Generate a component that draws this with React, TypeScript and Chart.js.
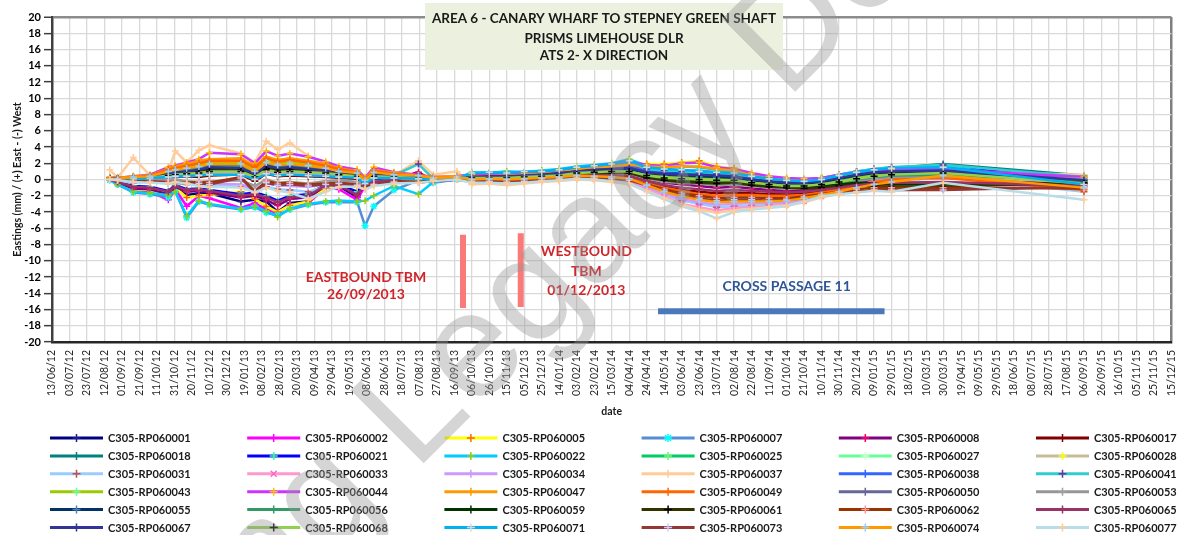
import React, { useEffect, useRef } from 'react';
import { Chart, registerables } from 'chart.js';

Chart.register(...registerables);

const FONT = '"Lato", "Open Sans", sans-serif';

// ---------- DATA ----------
const measurementDates = [
  '2012-08-18','2012-08-27','2012-09-14','2012-10-03','2012-10-24','2012-11-01','2012-11-14','2012-11-28',
  '2012-12-10','2013-01-15','2013-01-31','2013-02-13','2013-02-26','2013-03-12','2013-04-02','2013-04-22',
  '2013-05-07','2013-05-28','2013-06-06','2013-06-16','2013-07-09','2013-08-06','2013-08-23','2013-09-19',
  '2013-10-06','2013-10-26','2013-11-15','2013-12-05','2013-12-25','2014-01-14','2014-02-03','2014-02-23',
  '2014-03-15','2014-04-04','2014-04-24','2014-05-14','2014-06-03','2014-06-23','2014-07-13','2014-08-02',
  '2014-08-22','2014-09-11','2014-10-01','2014-10-21','2014-11-10','2014-11-30','2014-12-20','2015-01-09',
  '2015-01-29','2015-03-29','2015-09-06',
];

const tickLabels = [
  '13/06/12','03/07/12','23/07/12','12/08/12','01/09/12','21/09/12','11/10/12','31/10/12','20/11/12','10/12/12',
  '30/12/12','19/01/13','08/02/13','28/02/13','20/03/13','09/04/13','29/04/13','19/05/13','08/06/13','28/06/13',
  '18/07/13','07/08/13','27/08/13','16/09/13','06/10/13','26/10/13','15/11/13','05/12/13','25/12/13','14/01/14',
  '03/02/14','23/02/14','15/03/14','04/04/14','24/04/14','14/05/14','03/06/14','23/06/14','13/07/14','02/08/14',
  '22/08/14','11/09/14','01/10/14','21/10/14','10/11/14','30/11/14','20/12/14','09/01/15','29/01/15','18/02/15',
  '10/03/15','30/03/15','19/04/15','09/05/15','29/05/15','18/06/15','08/07/15','28/07/15','17/08/15','06/09/15',
  '26/09/15','16/10/15','05/11/15','25/11/15','15/12/15',
];

const C305_RP060001 = [0.0,-0.5,-1.3,-1.4,-2.0,-1.1,-1.9,-1.7,-1.7,-2.7,-2.5,-2.7,-4.0,-2.9,-2.7,-0.9,-0.8,-2.2,-0.6,-0.4,-0.2,0.2,-0.2,0.0,
  0.3,0.4,0.4,0.5,0.6,0.8,1.0,1.2,1.3,1.4,1.0,0.9,0.8,0.8,0.7,0.6,0.2,-0.1,-0.3,-0.4,-0.2,0.2,0.5,0.8,0.9, 0.5,-0.3];
const C305_RP060002 = [0.0,-0.6,-1.4,-1.5,-2.5,-1.2,-3.3,-2.0,-2.3,-3.5,-2.9,-3.7,-4.1,-3.1,-2.9,-1.0,-1.2,-2.5,-0.8,-0.5,-0.3,0.4,-0.3,0.0,
  0.4,0.4,0.5,0.5,0.7,0.8,1.1,1.3,1.4,1.5,1.1,1.0,1.0,1.0,0.8,0.7,0.3,0.0,-0.2,-0.3,-0.1,0.3,0.7,1.0,1.1, 1.2,-0.2];
const C305_RP060005 = [0.1,-0.4,-1.2,-1.3,-2.0,-1.0,-2.2,-2.0,-1.9,-1.5,-2.4,-3.3,-4.0,-3.2,-2.7,-1.0,-0.9,-1.4,-0.7,-0.5,-0.1,0.3,-0.1,0.1,
  0.5,0.6,0.7,0.6,0.8,1.0,1.3,1.6,1.8,2.0,1.9,1.9,2.1,2.3,1.6,1.4,0.7,0.3,0.1,0.0,0.1,0.5,0.8,1.0,1.1, 0.9,-0.2];
const C305_RP060007 = [-0.1,-0.6,-1.6,-1.8,-2.2,-1.4,-4.7,-2.7,-3.1,-3.7,-3.4,-4.1,-4.4,-3.7,-3.1,-2.8,-2.8,-2.8,-5.7,-3.3,-1.3,-0.1,-0.4,0.0,
  0.4,0.5,0.5,0.6,0.7,0.9,1.1,1.3,1.5,1.6,1.2,1.1,1.1,1.1,0.9,0.8,0.4,0.1,-0.1,-0.2,0.0,0.4,0.8,1.1,1.2, 1.4,0.0];
const C305_RP060008 = [0.0,-0.4,-1.1,-1.2,-1.8,-0.9,-1.5,-1.4,-1.6,-2.2,-2.0,-2.5,-3.2,-2.4,-2.2,-0.8,-0.7,-2.0,-0.6,-0.3,0.0,0.9,-0.2,0.1,
  0.0,0.1,0.1,0.2,0.2,0.4,0.6,0.6,0.6,0.6,0.0,-0.4,-0.6,-0.8,-1.0,-0.9,-1.1,-1.3,-1.4,-1.3,-1.1,-0.8,-0.4,-0.1,0.1, 0.2,-0.6];
const C305_RP060017 = [0.1,0.0,-0.1,0.1,0.2,0.3,0.4,0.3,0.5,0.6,-0.2,0.7,0.4,0.5,0.4,0.3,0.2,0.1,-0.6,0.1,0.2,0.3,0.0,0.2,
  -0.1,0.0,-0.1,0.0,0.1,0.2,0.4,0.4,0.3,0.2,-0.4,-0.9,-1.3,-1.5,-1.7,-1.6,-1.7,-1.8,-1.8,-1.7,-1.5,-1.3,-1.2,-1.1,-1.2, -1.2,-0.9];
const C305_RP060018 = [0.2,0.2,0.3,0.5,1.1,1.2,1.4,1.7,2.2,2.1,1.3,2.4,2.0,2.2,1.9,1.5,1.1,0.8,0.0,1.0,0.6,0.5,0.2,0.3,
  0.6,0.7,0.6,0.8,0.8,1.0,1.3,1.5,1.7,1.9,1.2,1.0,0.8,0.6,0.6,0.5,0.2,0.0,-0.2,-0.2,0.0,0.5,0.9,1.2,1.4, 1.9,0.5];
const C305_RP060021 = [0.0,-0.3,-0.8,-0.9,-1.4,-0.7,-1.2,-1.1,-1.3,-1.8,-1.6,-2.0,-2.6,-2.0,-1.8,-0.6,-0.6,-1.5,-0.4,-0.2,0.0,0.2,-0.1,0.0,
  0.6,0.6,0.7,0.7,0.9,1.0,1.3,1.5,1.6,1.8,1.3,1.0,1.0,0.9,0.8,0.7,0.4,0.1,-0.1,-0.1,0.1,0.5,0.9,1.1,1.3, 1.6,0.2];
const C305_RP060022 = [0.0,-0.6,-1.5,-1.7,-1.9,-1.5,-4.5,-2.6,-3.0,-3.6,-3.3,-3.9,-4.6,-3.6,-3.0,-2.7,-2.6,-2.7,-2.6,-2.0,-0.8,-1.8,-0.3,0.1,
  0.9,0.8,1.0,0.9,1.1,1.3,1.6,1.8,2.0,2.5,1.7,1.5,1.6,1.5,1.2,1.0,0.6,0.2,0.0,0.0,0.2,0.6,1.0,1.3,1.5, 1.7,-0.7];
const C305_RP060025 = [0.2,0.1,0.3,0.4,1.0,1.3,1.5,1.8,2.3,2.2,1.4,2.5,2.1,2.3,2.0,1.6,1.2,0.9,0.0,1.1,0.7,0.5,0.2,0.3,
  0.2,0.3,0.3,0.4,0.5,0.6,0.9,1.0,1.1,1.2,0.7,0.4,0.3,0.3,0.2,0.1,-0.2,-0.4,-0.6,-0.6,-0.4,-0.1,0.3,0.6,0.8, 1.1,-0.1];
const C305_RP060027 = [0.1,0.1,0.2,0.4,0.9,1.1,1.3,1.6,2.0,1.9,1.2,2.2,1.8,2.0,1.8,1.4,1.0,0.8,-0.1,0.9,0.6,0.4,0.1,0.2,
  0.3,0.3,0.4,0.4,0.5,0.7,0.9,1.1,1.2,1.3,0.8,0.5,0.4,0.4,0.3,0.2,-0.1,-0.3,-0.5,-0.6,-0.4,0.0,0.4,0.7,0.9, 1.3,-0.3];
const C305_RP060028 = [0.0,0.0,0.1,0.1,0.3,0.4,0.5,0.6,0.8,0.8,0.2,1.0,0.7,0.8,0.7,0.6,0.4,0.3,-0.4,0.3,0.3,0.2,0.0,0.1,
  0.1,0.2,0.2,0.3,0.3,0.5,0.7,0.8,0.9,1.0,0.4,0.1,0.0,0.0,-0.2,-0.1,-0.4,-0.6,-0.7,-0.8,-0.6,-0.3,0.0,0.2,0.3, 0.3,-0.3];
const C305_RP060031 = [0.0,-0.2,-0.4,-0.3,-0.5,-0.3,-0.6,-0.5,-0.7,-0.9,-1.3,-0.9,-1.2,-1.3,-1.5,-0.9,-0.6,-0.9,-0.5,-0.3,-0.2,0.0,-0.2,0.0,
  -0.3,-0.2,-0.3,-0.2,-0.1,0.0,0.2,0.1,0.0,-0.3,-1.1,-1.9,-2.6,-3.0,-3.4,-3.3,-3.2,-3.1,-3.0,-2.6,-2.0,-1.6,-1.2,-0.8,-0.5, 0.4,-1.5];
const C305_RP060033 = [0.1,0.0,0.1,0.2,0.4,0.5,0.6,0.7,0.9,0.9,0.3,1.1,0.8,0.9,0.8,0.7,0.5,0.4,-0.3,0.4,0.3,0.4,0.1,0.2,
  -0.2,-0.2,-0.4,-0.2,-0.1,0.1,0.2,0.1,-0.1,-0.4,-1.2,-2.1,-3.0,-3.4,-3.8,-3.5,-3.4,-3.3,-3.1,-2.7,-2.1,-1.6,-1.0,-0.3,0.4, 1.2,-0.3];
const C305_RP060034 = [0.0,-0.1,-0.1,0.0,-0.2,-0.1,-0.3,-0.4,-0.5,-0.6,-1.2,-0.5,-0.7,-0.8,-0.9,-0.6,-0.4,-0.6,-1.0,-0.6,-0.3,-0.2,-0.1,0.0,
  -0.1,0.0,-0.1,0.0,0.1,0.2,0.4,0.3,0.2,-0.1,-0.9,-1.7,-2.4,-2.8,-3.1,-3.0,-2.9,-2.9,-2.8,-2.4,-1.9,-1.4,-0.8,-0.2,0.3, 0.9,-0.5];
const C305_RP060037 = [1.2,0.2,2.7,0.5,1.0,3.5,2.1,3.6,4.2,3.2,2.1,4.7,3.7,4.5,2.9,2.0,1.5,1.2,0.3,0.8,0.5,2.3,0.6,1.0,
  -0.6,-0.5,-0.7,-0.5,-0.3,-0.2,0.0,-0.1,-0.3,-0.6,-1.4,-2.3,-3.1,-3.7,-4.1,-3.8,-3.6,-3.4,-3.2,-2.8,-2.2,-1.8,-1.4,-1.0,-0.8, 1.0,0.6];
const C305_RP060038 = [0.1,0.1,0.2,0.3,0.8,1.0,1.2,1.4,1.8,1.8,1.0,2.0,1.7,1.8,1.6,1.3,1.0,0.7,-0.1,0.8,0.5,0.4,0.1,0.2,
  0.5,0.5,0.6,0.6,0.7,0.9,1.2,1.4,1.5,1.7,1.1,0.8,0.6,0.5,0.4,0.3,0.1,-0.1,-0.3,-0.3,-0.1,0.3,0.7,1.0,1.2, 1.4,0.0];
const C305_RP060041 = [0.1,0.1,0.2,0.3,0.7,0.8,0.9,1.1,1.3,1.4,0.5,1.5,1.2,1.3,1.2,1.0,0.8,0.6,-0.2,0.7,0.5,1.9,0.1,0.2,
  0.7,0.8,0.7,0.8,0.9,1.1,1.4,1.6,1.8,2.1,1.3,1.1,1.0,0.8,0.7,0.6,0.3,0.0,-0.1,-0.1,0.1,0.6,1.0,1.3,1.5, 1.8,0.3];
const C305_RP060043 = [0.1,0.0,0.2,0.4,0.9,1.2,1.4,1.7,2.2,2.1,1.3,2.3,2.0,2.2,1.9,1.5,1.1,0.8,0.0,1.0,0.6,0.4,0.2,0.3,
  0.2,0.2,0.3,0.3,0.4,0.6,0.8,1.0,1.1,1.1,0.6,0.3,0.2,0.2,0.1,0.0,-0.3,-0.5,-0.7,-0.7,-0.5,-0.2,0.2,0.5,0.7, 0.9,-0.4];
const C305_RP060044 = [0.3,0.2,0.4,0.6,1.5,1.7,2.1,2.5,3.3,3.1,2.0,3.5,2.9,3.2,2.8,2.2,1.6,1.2,0.2,1.5,0.9,0.6,0.3,0.4,
  0.6,0.5,0.8,0.7,0.9,1.1,1.4,1.7,1.9,2.2,1.8,1.7,2.0,2.1,1.5,1.3,0.8,0.4,0.2,0.1,0.2,0.6,0.9,1.1,1.2, 1.2,0.3];
const C305_RP060047 = [0.2,0.2,0.4,0.5,1.3,1.6,1.9,2.3,2.5,2.6,1.7,2.8,2.4,2.6,2.3,1.9,1.4,1.0,0.1,1.2,0.8,0.5,0.3,0.4,
  0.4,0.4,0.5,0.6,0.7,0.9,1.2,1.4,1.6,1.8,1.6,1.5,1.6,1.6,1.3,1.1,0.5,0.1,-0.1,-0.2,-0.1,0.3,0.6,0.8,0.9, 0.6,-1.2];
const C305_RP060049 = [0.2,0.1,0.3,0.5,1.2,1.4,1.7,2.0,2.3,2.3,1.5,2.6,2.2,2.4,2.1,1.7,1.3,0.9,0.0,1.1,0.7,0.5,0.2,0.3,
  0.0,0.0,0.1,0.1,0.2,0.3,0.5,0.5,0.4,0.3,-0.4,-1.0,-1.4,-1.8,-2.0,-1.9,-1.9,-2.0,-2.0,-1.9,-1.6,-1.2,-0.7,-0.3,0.0, 0.2,-1.3];
const C305_RP060050 = [0.1,0.1,0.2,0.3,0.6,0.7,0.8,0.9,1.1,1.1,0.4,1.3,1.0,1.1,1.0,0.8,0.6,0.5,-0.3,0.5,0.4,0.3,0.0,0.2,
  0.1,0.1,0.2,0.2,0.3,0.5,0.6,0.8,0.8,0.9,0.3,0.0,-0.2,-0.3,-0.4,-0.3,-0.6,-0.8,-1.0,-1.0,-0.8,-0.5,-0.1,0.2,0.4, 0.7,0.0];
const C305_RP060053 = [0.0,0.0,-0.1,0.0,0.1,0.0,-0.2,-0.3,-0.2,-0.1,-0.8,0.0,-0.4,-0.3,-0.5,-0.2,-0.1,-0.3,-0.8,-0.3,0.0,-0.1,-0.1,0.0,
  0.0,0.1,0.1,0.2,0.2,0.4,0.6,0.7,0.7,0.7,0.1,-0.3,-0.4,-0.5,-0.7,-0.6,-0.8,-1.0,-1.1,-1.1,-0.9,-0.6,-0.2,0.1,0.3, 0.4,0.1];
const C305_RP060055 = [0.1,0.1,0.2,0.4,0.8,0.9,1.0,1.2,1.5,1.5,0.6,1.8,1.4,1.5,1.4,1.2,0.9,0.7,-0.3,0.6,0.5,0.4,0.1,0.2,
  0.3,0.3,0.4,0.4,0.6,0.7,1.0,1.1,1.2,1.3,0.8,0.6,0.5,0.4,0.3,0.2,-0.1,-0.3,-0.5,-0.5,-0.3,0.1,0.5,0.8,0.9, 1.0,-0.2];
const C305_RP060056 = [0.1,0.1,0.2,0.3,0.7,0.9,1.1,1.3,1.6,1.6,0.8,1.9,1.5,1.6,1.5,1.2,0.9,0.7,-0.2,0.7,0.5,0.4,0.1,0.2,
  0.2,0.2,0.3,0.3,0.4,0.5,0.7,0.9,1.0,1.0,0.4,0.1,0.0,-0.1,-0.2,-0.2,-0.5,-0.7,-0.9,-0.9,-0.7,-0.4,0.0,0.3,0.5, 0.6,-0.2];
const C305_RP060059 = [0.1,0.1,0.2,0.3,0.6,0.8,0.9,1.0,1.3,1.3,0.5,1.5,1.2,1.3,1.2,1.0,0.8,0.6,-0.3,0.5,0.4,0.3,0.0,0.2,
  0.1,0.1,0.2,0.2,0.3,0.5,0.7,0.8,0.9,0.9,0.4,0.1,-0.1,-0.2,-0.4,-0.3,-0.5,-0.7,-0.9,-1.0,-0.8,-0.6,-0.4,-0.5,-0.6, -0.6,-0.5];
const C305_RP060061 = [0.1,0.0,0.1,0.2,0.5,0.6,0.7,0.9,1.1,1.2,0.4,1.4,1.1,1.2,1.1,0.9,0.7,0.5,-0.4,0.4,0.3,0.2,0.0,0.1,
  0.1,0.1,0.1,0.2,0.3,0.4,0.6,0.7,0.8,0.8,0.2,-0.1,-0.3,-0.4,-0.5,-0.4,-0.7,-0.9,-1.0,-1.1,-1.0,-0.8,-0.7,-0.8,-0.9, -0.9,-0.4];
const C305_RP060062 = [0.0,-0.1,-0.2,-0.2,-0.3,-0.3,-0.4,-0.3,-0.4,0.3,-1.5,-0.2,-0.5,-0.4,-0.6,-0.5,-0.4,-0.6,-1.0,-0.5,-0.2,-0.3,-0.1,0.0,
  -0.2,-0.1,-0.2,-0.1,0.0,0.1,0.3,0.3,0.2,0.0,-0.6,-1.2,-1.7,-2.0,-2.3,-2.2,-2.2,-2.3,-2.3,-2.1,-1.8,-1.5,-1.2,-1.0,-1.0, -1.0,-1.1];
const C305_RP060065 = [0.0,-0.3,-0.9,-1.0,-1.5,-0.8,-1.3,-1.2,-1.4,-2.0,-1.8,-2.2,-2.8,-2.2,-2.0,-0.7,-0.7,-1.9,-0.5,-0.3,0.0,0.6,-0.2,0.0,
  0.0,0.0,0.0,0.1,0.2,0.3,0.5,0.5,0.5,0.4,-0.2,-0.7,-1.0,-1.2,-1.4,-1.3,-1.4,-1.5,-1.6,-1.5,-1.3,-1.0,-0.7,-0.5,-0.4, -0.3,-0.8];
const C305_RP060067 = [0.1,0.1,0.2,0.3,0.7,0.8,1.0,1.2,1.5,1.4,0.7,1.7,1.4,1.5,1.3,1.1,0.9,0.7,-0.2,0.6,0.5,0.4,0.1,0.2,
  0.3,0.4,0.4,0.5,0.6,0.8,1.0,1.2,1.3,1.4,0.9,0.7,0.6,0.6,0.5,0.4,0.0,-0.2,-0.4,-0.4,-0.2,0.2,0.6,0.9,1.0, 1.1,-0.1];
const C305_RP060068 = [0.1,0.0,0.1,0.2,0.5,0.6,0.7,0.8,1.0,1.0,0.3,1.2,0.9,1.0,0.9,0.8,0.6,0.4,-0.4,0.4,0.3,0.2,0.0,0.1,
  0.2,0.2,0.2,0.3,0.4,0.5,0.8,0.9,1.0,1.0,0.5,0.2,0.1,0.0,-0.1,-0.1,-0.4,-0.6,-0.8,-0.8,-0.6,-0.3,0.1,0.4,0.6, 0.8,-0.5];
const C305_RP060071 = [0.0,0.0,0.1,0.2,0.3,0.4,0.4,0.5,0.6,0.6,0.0,0.7,0.5,0.6,0.5,0.4,0.3,0.2,-0.5,0.2,0.2,0.1,0.0,0.1,
  0.8,0.9,0.8,1.0,1.0,1.2,1.5,1.7,1.9,2.3,1.5,1.3,1.2,1.0,0.9,0.8,0.4,0.1,-0.1,-0.2,0.0,0.5,0.9,1.2,1.4, 1.5,-0.6];
const C305_RP060073 = [0.0,-0.1,-0.2,-0.3,-0.4,-0.4,-0.5,-0.5,-0.6,0.2,-1.6,-0.4,-0.7,-0.6,-0.8,-0.6,-0.5,-0.7,-1.2,-0.6,-0.3,-0.4,-0.2,0.0,
  -0.2,-0.2,-0.3,-0.2,-0.1,0.1,0.2,0.2,0.1,-0.1,-0.7,-1.4,-1.9,-2.3,-2.6,-2.5,-2.5,-2.6,-2.5,-2.3,-2.0,-1.7,-1.5,-1.3,-1.3, -1.3,-0.9];
const C305_RP060074 = [0.1,0.1,0.3,0.4,1.0,1.2,1.4,1.6,1.9,1.9,1.0,2.1,1.8,1.9,1.7,1.4,1.0,0.8,-0.1,0.9,0.6,0.5,0.2,0.3,
  0.0,0.1,0.0,0.1,0.2,0.3,0.5,0.4,0.3,0.1,-0.7,-1.5,-2.1,-2.5,-2.8,-2.7,-2.7,-2.7,-2.6,-2.3,-1.9,-1.5,-1.0,-0.6,-0.3, 0.5,-1.0];
const C305_RP060077 = [0.0,-0.1,-0.3,-0.4,-0.5,-0.3,-0.5,-0.8,-0.9,-1.0,-1.6,-1.0,-1.4,-1.6,-2.4,-1.5,-0.9,-0.9,-1.2,-0.8,-0.5,-0.4,-0.2,0.0,
  -0.4,-0.4,-0.5,-0.4,-0.2,-0.1,0.1,0.0,-0.2,-0.5,-1.5,-2.4,-3.3,-3.9,-4.8,-4.0,-3.7,-3.5,-3.3,-2.7,-2.1,-1.8,-1.6,-1.4,-1.5, -0.4,-2.5];

const seriesNames = [
  'C305-RP060001','C305-RP060002','C305-RP060005','C305-RP060007','C305-RP060008','C305-RP060017',
  'C305-RP060018','C305-RP060021','C305-RP060022','C305-RP060025','C305-RP060027','C305-RP060028',
  'C305-RP060031','C305-RP060033','C305-RP060034','C305-RP060037','C305-RP060038','C305-RP060041',
  'C305-RP060043','C305-RP060044','C305-RP060047','C305-RP060049','C305-RP060050','C305-RP060053',
  'C305-RP060055','C305-RP060056','C305-RP060059','C305-RP060061','C305-RP060062','C305-RP060065',
  'C305-RP060067','C305-RP060068','C305-RP060071','C305-RP060073','C305-RP060074','C305-RP060077',
];
const seriesValues = [
  C305_RP060001, C305_RP060002, C305_RP060005, C305_RP060007, C305_RP060008, C305_RP060017,
  C305_RP060018, C305_RP060021, C305_RP060022, C305_RP060025, C305_RP060027, C305_RP060028,
  C305_RP060031, C305_RP060033, C305_RP060034, C305_RP060037, C305_RP060038, C305_RP060041,
  C305_RP060043, C305_RP060044, C305_RP060047, C305_RP060049, C305_RP060050, C305_RP060053,
  C305_RP060055, C305_RP060056, C305_RP060059, C305_RP060061, C305_RP060062, C305_RP060065,
  C305_RP060067, C305_RP060068, C305_RP060071, C305_RP060073, C305_RP060074, C305_RP060077,
];
const lineColors = [
  '#000080','#ff00ff','#ffff00','#558ed5','#800080','#800000',
  '#008080','#0000ff','#00ccff','#00cc66','#66ff99','#c4bd97',
  '#99ccff','#ff99cc','#cc99ff','#ffcc99','#3366ff','#33cccc',
  '#99cc00','#cc33ff','#ff9900','#ff6600','#666699','#969696',
  '#003366','#339966','#003300','#333300','#993300','#993366',
  '#333399','#92d050','#00b0f0','#953735','#ff9900','#b7dee8',
];
const markerColors = [
  '#1f1f8f','#ff00ff','#ff6600','#00ffff','#ff0066','#800000',
  '#008080','#33ff99','#99cc00','#66ff66','#ccffcc','#ffff00',
  '#c0504d','#ff66cc','#cc99ff','#ffcc99','#3366ff','#7030a0',
  '#66ff99','#ffc000','#ff9900','#ff6600','#666699','#a0a0a0',
  '#4f81bd','#339966','#003300','#000000','#ff9999','#993366',
  '#333399','#000000','#d9d9d9','#ccccff','#99ccff','#ffcc99',
];
const markerStyles = seriesNames.map((n) =>
  n === 'C305-RP060007' ? 'star' : n === 'C305-RP060033' ? 'crossRot' : 'cross');

// annotation marks (data units: date, mm)
const eastboundTbmDate = '2013-09-26';
const eastboundBarRange = [-6.8, -15.8];
const westboundTbmDate = '2013-12-01';
const westboundBarRange = [-6.6, -15.7];
const crossPassageDates = ['2014-05-07', '2015-01-21'];
const crossPassageLevel = -16.2;

const chartTitleLines = ['AREA 6 - CANARY WHARF TO STEPNEY GREEN SHAFT', 'PRISMS LIMEHOUSE DLR', 'ATS 2- X DIRECTION'];
const annotationTexts = [
  { lines: ['EASTBOUND TBM', '26/09/2013'], day: 359, ys: [-12.0, -14.1], color: '#d0262b' },
  { lines: ['WESTBOUND', 'TBM', '01/12/2013'], day: 611, ys: [-8.9, -11.35, -13.7], color: '#d0262b' },
  { lines: ['CROSS PASSAGE 11'], day: 840, ys: [-13.2], color: '#2f5597' },
];

// ---------- HELPERS ----------
const ORIGIN = Date.UTC(2012, 5, 13);
const dayOf = (iso: string) => {
  const [y, m, d] = iso.split('-').map(Number);
  return Math.round((Date.UTC(y, m - 1, d) - ORIGIN) / 86400000);
};

function drawMarker(ctx: CanvasRenderingContext2D, style: string, cx: number, cy: number, r: number, color: string) {
  ctx.save();
  ctx.strokeStyle = color;
  ctx.lineWidth = 1.5;
  ctx.beginPath();
  if (style === 'cross' || style === 'star') {
    ctx.moveTo(cx - r, cy); ctx.lineTo(cx + r, cy);
    ctx.moveTo(cx, cy - r); ctx.lineTo(cx, cy + r);
  }
  if (style === 'crossRot' || style === 'star') {
    const d = r * 0.75;
    ctx.moveTo(cx - d, cy - d); ctx.lineTo(cx + d, cy + d);
    ctx.moveTo(cx - d, cy + d); ctx.lineTo(cx + d, cy - d);
  }
  ctx.stroke();
  ctx.restore();
}

const overlayPlugin = {
  id: 'overlays',
  afterDatasetsDraw(chart: any) {
    const { ctx, scales } = chart;
    const x = scales.x, y = scales.y;
    ctx.save();
    ctx.textAlign = 'center';
    ctx.textBaseline = 'middle';
    ctx.font = `bold 14px ${FONT}`;
    annotationTexts.forEach((a) => {
      ctx.fillStyle = a.color;
      a.lines.forEach((t, k) => ctx.fillText(t, x.getPixelForValue(a.day), y.getPixelForValue(a.ys[k])));
    });
    ctx.restore();
  },
  afterDraw(chart: any) {
    const { ctx } = chart;
    // title box
    ctx.save();
    ctx.fillStyle = '#ebf1de';
    ctx.fillRect(425, 3, 358, 67);
    ctx.fillStyle = '#1a1a1a';
    ctx.font = `bold 13.5px ${FONT}`;
    ctx.textAlign = 'center';
    ctx.textBaseline = 'middle';
    const ty = [19, 38.5, 55.5];
    chartTitleLines.forEach((t, i) => ctx.fillText(t, 604, ty[i]));
    ctx.restore();

    // legend
    ctx.save();
    ctx.font = `bold 11px ${FONT}`;
    ctx.textBaseline = 'middle';
    ctx.textAlign = 'left';
    seriesNames.forEach((name, i) => {
      const col = i % 6, row = Math.floor(i / 6);
      const lx = 50 + col * 197.2;
      const ly = 438 + row * 17.9;
      ctx.strokeStyle = lineColors[i];
      ctx.lineWidth = 3;
      ctx.beginPath();
      ctx.moveTo(lx, ly);
      ctx.lineTo(lx + 53, ly);
      ctx.stroke();
      drawMarker(ctx, markerStyles[i], lx + 26.5, ly, 4, markerColors[i]);
      ctx.fillStyle = '#1a1a1a';
      ctx.fillText(name, lx + 58, ly + 0.5);
    });
    ctx.restore();

    // watermark
    ctx.save();
    ctx.font = '150px "Liberation Sans", Arial, sans-serif';
    ctx.fillStyle = 'rgba(150,150,150,0.4)';
    ctx.translate(415, 472);
    ctx.rotate(-Math.PI / 4);
    const pre = ctx.measureText('Learning ').width;
    ctx.textBaseline = 'alphabetic';
    ctx.fillText('Learning Legacy Document', -pre, 0);
    ctx.restore();
  },
};

export default function App() {
  const ref = useRef<HTMLCanvasElement | null>(null);

  useEffect(() => {
    if (!ref.current) return;
    const datasets: any[] = seriesNames.map((name, i) => ({
      label: name,
      data: measurementDates.map((d, j) => ({ x: dayOf(d), y: seriesValues[i][j] })),
      borderColor: lineColors[i],
      backgroundColor: lineColors[i],
      borderWidth: 2.5,
      pointStyle: markerStyles[i],
      pointRadius: 3.5,
      pointBorderColor: markerColors[i],
      pointBackgroundColor: markerColors[i],
      pointBorderWidth: 1.5,
      tension: 0,
      order: seriesNames.length - i,
    }));
    const bar = (data: any[], color: string) => ({
      label: '',
      data,
      borderColor: color,
      backgroundColor: color,
      borderWidth: 6,
      pointRadius: 0,
      borderCapStyle: 'butt',
      order: 100,
    });
    datasets.push(bar(eastboundBarRange.map((v) => ({ x: dayOf(eastboundTbmDate), y: v })), '#fa7a7a'));
    datasets.push(bar(westboundBarRange.map((v) => ({ x: dayOf(westboundTbmDate), y: v })), '#fa7a7a'));
    datasets.push(bar(crossPassageDates.map((d) => ({ x: dayOf(d), y: crossPassageLevel })), '#4a78bb'));

    const chart = new Chart(ref.current, {
      type: 'line',
      data: { datasets },
      options: {
        animation: false,
        responsive: false,
        events: [],
        layout: { padding: { top: 17, right: 11, left: 0, bottom: 0 } },
        plugins: { legend: { display: false }, tooltip: { enabled: false } },
        scales: {
          x: {
            type: 'linear',
            min: 0,
            max: 1280,
            afterFit: (s: any) => { s.height = 193; },
            ticks: {
              stepSize: 20,
              autoSkip: false,
              minRotation: 90,
              maxRotation: 90,
              padding: 8,
              color: '#262626',
              font: { family: FONT, size: 10.5 },
              callback: (v: any) => tickLabels[Math.round(Number(v) / 20)] ?? '',
            },
            grid: {
              drawTicks: false,
              color: (c: any) => (c.tick && c.tick.value === 1280 ? '#7f7f7f' : '#d9d9d9'),
              lineWidth: (c: any) => (c.tick && c.tick.value === 1280 ? 2.5 : 1.3),
            },
            border: { display: true, color: '#262626', width: 2.5 },
            title: {
              display: true,
              text: 'date',
              color: '#1a1a1a',
              font: { family: FONT, size: 10.5, weight: 'bold' },
              padding: { top: 0, bottom: 117 },
            },
          },
          y: {
            min: -20,
            max: 20,
            afterFit: (s: any) => { s.width = 52; },
            ticks: {
              stepSize: 2,
              padding: 3,
              color: '#000000',
              font: { family: FONT, size: 11, weight: 'bold' },
            },
            grid: {
              tickLength: 8,
              tickColor: '#404040',
              tickWidth: 1.5,
              color: (c: any) => (c.tick && c.tick.value === 20 ? '#8c8c8c' : '#d9d9d9'),
              lineWidth: (c: any) => (c.tick && c.tick.value === 20 ? 2.5 : 1.3),
            },
            border: { display: true, color: '#404040', width: 2.5 },
            title: {
              display: true,
              text: 'Eastings (mm) / (+) East - (-) West',
              color: '#1a1a1a',
              font: { family: FONT, size: 10.5, weight: 'bold' },
              padding: { top: 11, bottom: 0 },
            },
          },
        },
      },
      plugins: [overlayPlugin],
    } as any);
    return () => chart.destroy();
  }, []);

  return (
    <div style={{ position: 'absolute', left: 0, top: 0, width: 1192, height: 535, background: '#ffffff' }}>
      <canvas ref={ref} width={1192} height={535} style={{ display: 'block' }} />
    </div>
  );
}
